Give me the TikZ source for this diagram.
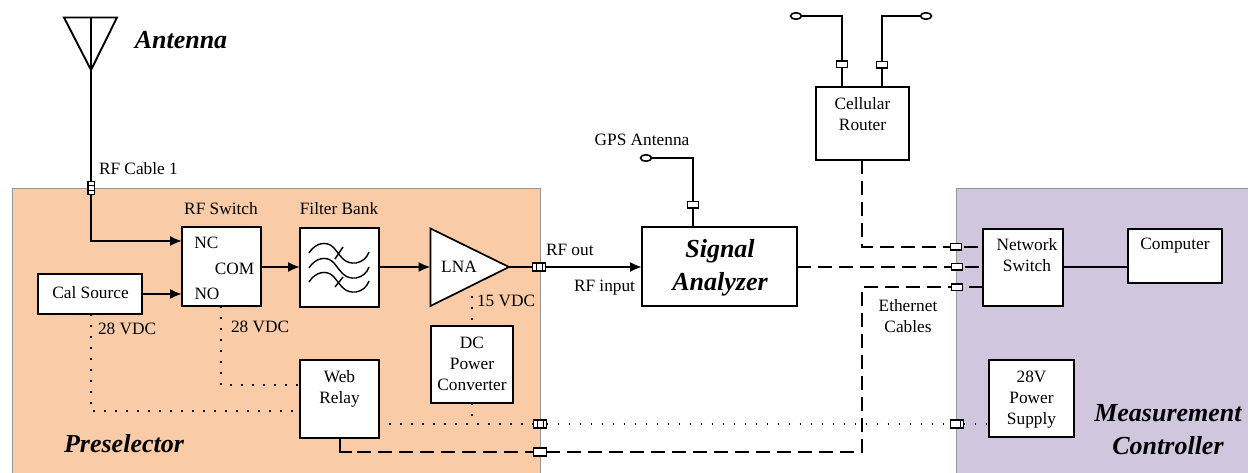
\documentclass[tikz,border=0pt]{standalone}
\usepackage{fontspec}
\setmainfont{Liberation Serif}
\usetikzlibrary{arrows.meta,calc,shapes.geometric}
\pgfdeclarelayer{backdrop}
\pgfdeclarelayer{wires}
\pgfsetlayers{backdrop,wires,main}
\definecolor{presel}{RGB}{249,203,166}
\definecolor{measc}{RGB}{208,198,222}
\definecolor{edgegray}{RGB}{150,150,150}
\tikzset{
  box/.style={draw=black,fill=white,line width=1.7pt,inner sep=0pt,outer sep=0pt},
  lab/.style={inner sep=0pt,outer sep=0pt,align=center,font=\fontsize{17.3}{21}\selectfont},
  big/.style={inner sep=0pt,outer sep=0pt,align=center,font=\fontsize{26}{33}\selectfont\bfseries\itshape},
  wire/.style={line width=1.9pt,line join=miter},
  arrowwire/.style={wire,-{Latex[length=12pt,width=10pt]}},
  dashwire/.style={line width=1.9pt,dash pattern=on 14pt off 7pt},
  dotwire/.style={line width=1.8pt,dash pattern=on 1.8pt off 9.2pt},
  conn/.style={draw=black,fill=white,line width=1.5pt,inner sep=0pt,outer sep=0pt,minimum width=#1},
  hconn/.style={conn=13pt,minimum height=8pt},
  tconn/.style={conn=11pt,minimum height=6.5pt},
  term/.style={draw=black,fill=white,line width=1.6pt,ellipse,inner sep=0pt,outer sep=0pt,minimum width=11pt,minimum height=6.5pt},
  region/.style={draw=edgegray,line width=.7pt},
}
\begin{document}
\begin{tikzpicture}[x=1pt,y=-1pt]
\useasboundingbox (0,0) rectangle (1248,473);
\begin{pgfonlayer}{backdrop}
  \fill[white] (0,0) rectangle (1248,473);
  \filldraw[region,fill=presel] (540,473) -- (540,188.5) -- (12,188.5) -- (12,473);
  \filldraw[region,fill=measc] (1248,188.5) -- (956.5,188.5) -- (956.5,473) -- (1248,473);
\end{pgfonlayer}

% main boxes
\node[box,minimum width=79pt,minimum height=79pt] (sw) at (221.5,266.5) {};
\node[box,minimum width=104pt,minimum height=40pt] (cal) at (90,294) {};
\node[box,minimum width=79pt,minimum height=79pt] (fb) at (339.5,267.5) {};
\node[box,minimum width=82pt,minimum height=77pt] (dc) at (472,364.5) {};
\node[box,minimum width=79pt,minimum height=78pt] (relay) at (339.5,399) {};
\node[box,minimum width=155pt,minimum height=79pt] (sa) at (719.5,266.5) {};
\node[box,minimum width=93pt,minimum height=73pt] (router) at (862.5,123.5) {};
\node[box,minimum width=80pt,minimum height=77pt] (ns) at (1023,267.5) {};
\node[box,minimum width=94pt,minimum height=54pt] (pc) at (1175,256) {};
\node[box,minimum width=85pt,minimum height=77pt] (ps) at (1031.5,398.5) {};
% LNA
\coordinate (lnaT) at (430.5,228.5);
\coordinate (lnaB) at (430.5,306);
\coordinate (lnaO) at (509,267);
\coordinate (lnaI) at (430.5,267);
\filldraw[box] (lnaT) -- (lnaO) -- (lnaB) -- cycle;
% antenna
\coordinate (antL) at (64,17.5);
\coordinate (antR) at (117,17.5);
\coordinate (antM) at (91,17.5);
\coordinate (antB) at (91,70);
\draw[wire] (antL) -- (antR) -- (antB) -- cycle;
\draw[wire] (antM) -- (antB);
% filter glyph
\begin{scope}[line width=1.4pt]
  \draw (309,253) .. controls (315,243) and (327,240) .. (334,248) .. controls (342,258) and (345,264) .. (356,263) .. controls (362,262) and (367,258) .. (369,252);
  \draw (309,268) .. controls (315,258) and (327,255) .. (334,263) .. controls (342,273) and (345,279) .. (356,278) .. controls (362,277) and (367,273) .. (369,267);
  \draw (309,282) .. controls (315,272) and (327,269) .. (334,277) .. controls (342,287) and (345,293) .. (356,292) .. controls (362,291) and (367,287) .. (369,281);
  \draw (335,259) -- (343,247);
  \draw (335,287) -- (343,277);
\end{scope}

% connector bodies
\node[conn=6.5pt,minimum height=13pt] (c1) at (91,188) {};
\draw[line width=1pt] ($(c1.west)+(0,-2.5)$) -- ($(c1.east)+(0,-2.5)$) ($(c1.west)+(0,2.5)$) -- ($(c1.east)+(0,2.5)$);
\node[hconn] (c2) at (539,267) {};
\draw[line width=1pt] ($(c2.north)+(-3,0)$) -- ($(c2.south)+(-3,0)$) ($(c2.north)+(3,0)$) -- ($(c2.south)+(3,0)$);
\node[hconn] (c3) at (540,424) {};
\draw[line width=1pt] ($(c3.north)+(-3,0)$) -- ($(c3.south)+(-3,0)$) ($(c3.north)+(3,0)$) -- ($(c3.south)+(3,0)$);
\node[hconn] (c4) at (540,452) {};
\node[tconn] (c5) at (693,205) {};
\node[tconn] (c6) at (842,64.5) {};
\node[tconn] (c7) at (882,65) {};
\node[tconn] (c8) at (956,247) {};
\node[tconn] (c9) at (957,267) {};
\node[tconn] (c10) at (957,287) {};
\node[hconn] (c11) at (957,424) {};
\draw[line width=1pt] ($(c11.north)+(3,0)$) -- ($(c11.south)+(3,0)$);
% antenna ends
\node[term] (gps) at (646,158) {};
\node[term] (cellL) at (796,16) {};
\node[term] (cellR) at (926,16) {};

\coordinate (bendA) at (862,247);
\coordinate (bendB) at (862,452);
\coordinate (bendC) at (862,287);
\coordinate (bendD) at (221,385);
\coordinate (bendE) at (91,411);
\coordinate (bendF) at (340,452);
\coordinate (dashStart) at (357,452);

\begin{pgfonlayer}{wires}
  % solid
  \draw[arrowwire] (antB) |- (sw.west |- 0,241);
  \draw[arrowwire] (cal.east) -- (sw.west |- cal.east);
  \draw[arrowwire] (sw.east |- 0,267) -- (fb.west |- 0,267);
  \draw[arrowwire] (fb.east |- lnaI) -- (lnaI);
  \draw[arrowwire] (lnaO) -- (sa.west |- lnaO);
  \draw[wire] (gps.east) -| (sa.north -| c5);
  \draw[wire] (cellL.east) -| (router.north -| c6);
  \draw[wire] (cellR.west) -| (router.north -| c7);
  \draw[wire] (ns.east |- 0,267) -- (pc.west |- 0,267);
  % dashed
  \draw[dashwire] (router.south -| bendA) -- (bendA) -- (ns.west |- c8);
  \draw[dashwire] (sa.east |- c9) -- (ns.west |- c9);
  \draw[wire] (relay.south -| bendF) -- (bendF) -- (352,452);
  \draw[dashwire] (dashStart) -- (bendB) -- (bendC) -- (ns.west |- c10);
  % dotted
  \draw[dotwire] (c3.west) -- (relay.east |- c3.west);
  \draw[dotwire] (c3.east) -- (c11.west);
  \draw[dotwire] (c11.east) -- (ps.west |- c11);
  \draw[dotwire] (dc.south) -- (dc.south |- c3);
  \draw[dotwire] (472,296) -- (dc.north);
  \draw[dotwire] (sw.south -| bendD) -- (bendD) -- (relay.west |- bendD);
  \draw[dotwire] (cal.south -| bendE) -- (bendE) -- (relay.west |- bendE);
\end{pgfonlayer}

% labels
\node[big] (tAnt) at (181,40) {Antenna};
\node[big] (tPre) at (124,444) {Preselector};
\node[big] (tSA) at (720,268) {Signal\\Analyzer};
\node[big] (tMC) at (1168,430) {Measurement\\Controller};
\node[lab,anchor=west] (tRF1) at (99,168.5) {RF Cable 1};
\node[lab] (tSw) at (221,209) {RF Switch};
\node[lab] (tFB) at (339,209) {Filter Bank};
\node[lab] (tNC) at (206.5,243) {NC};
\node[lab] (tCOM) at (234.5,268.5) {COM};
\node[lab] (tNO) at (207,294) {NO};
\node[lab] (tCal) at (90.5,293) {Cal Source};
\node[lab] (tLNA) at (459,267) {LNA};
\node[lab,anchor=west] (t15) at (477,300.5) {15 VDC};
\node[lab,anchor=west] (t28a) at (98,328.5) {28 VDC};
\node[lab,anchor=west] (t28b) at (231,326.5) {28 VDC};
\node[lab] (tDC) at (472,364) {DC\\Power\\Converter};
\node[lab] (tWR) at (339.5,389) {Web\\Relay};
\node[lab,anchor=west] (tOut) at (546,249.5) {RF out};
\node[lab,anchor=west] (tIn) at (574,288) {RF input};
\node[lab] (tGPS) at (642,140) {GPS Antenna};
\node[lab] (tCR) at (862.5,114) {Cellular\\Router};
\node[lab] (tNS) at (1027,255.5) {Network\\Switch};
\node[lab] (tPC) at (1175,246) {Computer};
\node[lab] (tEth) at (908,316) {Ethernet\\Cables};
\node[lab] (tPS) at (1031.5,400) {28V\\Power\\Supply};
\end{tikzpicture}
\end{document}
